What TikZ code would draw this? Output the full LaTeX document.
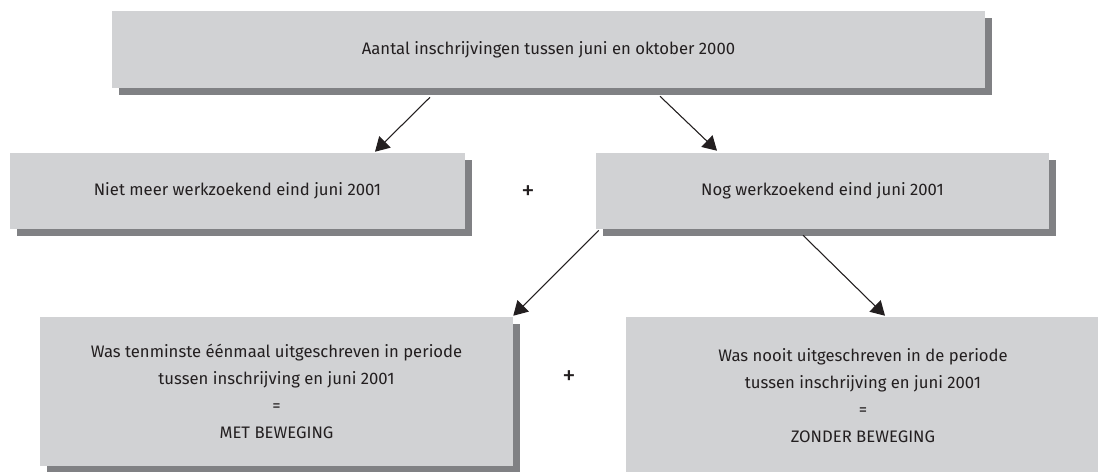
\documentclass[tikz,border=0pt]{standalone}
\usepackage{fontspec}
\setmainfont{Fira Sans}
\usetikzlibrary{shapes,arrows.meta,shadows,positioning,calc}
\definecolor{boxgray}{HTML}{D1D2D4}
\definecolor{shadowgray}{HTML}{808184}
\definecolor{inkgray}{HTML}{231F20}
\tikzset{box/.style={
    rectangle,
    fill=boxgray,
    general shadow={fill=shadowgray, shadow xshift=5.25pt, shadow yshift=-5.25pt},
    text=inkgray,
    align=center,
    inner sep=0pt,
    font=\fontsize{12.5}{20.25}\selectfont,
  }}

\begin{document}
\begin{tikzpicture}[x=0.75pt,y=-0.75pt,
        flow/.style={-{Triangle[length=10.5pt,width=12pt]}, line width=0.8pt, draw=inkgray, fill=inkgray},
        plus/.style={text=inkgray, inner sep=0pt, font=\fontsize{20}{20}\selectfont}]
        \useasboundingbox (0,0) rectangle (1098,471);
        \clip (0,0) rectangle (1098,471);

        % Boxes
        \node (total) [box, minimum width=654.75pt, minimum height=57.75pt] at (548.5,49.5)
          {Aantal inschrijvingen tussen juni en oktober 2000};
        \node (niet) [box, minimum width=341.25pt, minimum height=57pt] at (237.5,191)
          {Niet meer werkzoekend eind juni 2001};
        \node (nog) [box, minimum width=339.75pt, minimum height=57pt] at (822.5,190.5)
          {Nog werkzoekend eind juni 2001};
        \node (met) [box, minimum width=354.75pt, minimum height=111.75pt] at (276.5,391.5)
          {Was tenminste éénmaal uitgeschreven in periode\\
           tussen inschrijving en juni 2001\\ =\\ MET BEWEGING};
        \node (zonder) [box, minimum width=355.5pt, minimum height=117.75pt] at (863,395.5)
          {Was nooit uitgeschreven in de periode\\
           tussen inschrijving en juni 2001\\ =\\ ZONDER BEWEGING};

        \node (plusa) [plus] at (528,193) {+};
        \node (plusb) [plus] at (569,378) {+};

        % Arrows
        \draw [flow] ($(total.south)+(-118.5,9)$) -- ($(niet.north)+(137.5,-1)$);
        \draw [flow] ($(total.south)+(111.5,8)$) -- ($(nog.north)+(-105.5,-1.5)$);
        \draw [flow] ($(nog.south west)+(3,1.5)$) -- ($(met.north east)+(0,-1)$);
        \draw [flow] ($(nog.south)+(-19.5,6.5)$) -- ($(zonder.north)+(22,-1)$);

      \end{tikzpicture}
\end{document}
